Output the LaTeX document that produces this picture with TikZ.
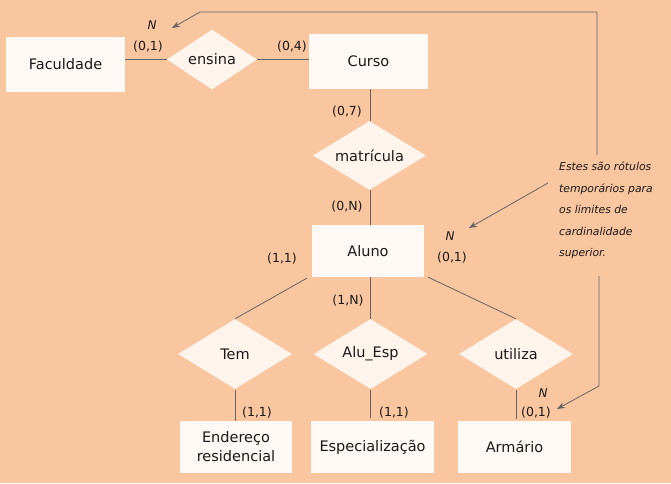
\documentclass[tikz,border=0pt]{standalone}
\usepackage{fontspec}
\setmainfont{DejaVu Sans}
\usetikzlibrary{shapes.geometric,arrows.meta}
\definecolor{bg}{RGB}{249,198,160}
\definecolor{boxfill}{RGB}{255,249,245}
\definecolor{diafill}{RGB}{255,245,236}
\definecolor{ln}{RGB}{100,100,100}
\definecolor{txt}{RGB}{25,25,25}
\begin{document}
\begin{tikzpicture}[x=1pt,y=-1pt,
  entity/.style={rectangle,fill=boxfill,inner sep=0pt,font=\fontsize{14.5}{19}\selectfont,text=txt,align=center},
  rel/.style={diamond,fill=diafill,inner sep=0pt},
  rlabel/.style={inner sep=0pt,font=\fontsize{14.5}{18}\selectfont,text=txt},
  card/.style={inner sep=0pt,font=\fontsize{12.5}{15}\selectfont,text=txt},
  upper/.style={inner sep=0pt,font=\fontsize{12}{14}\selectfont\itshape,text=txt},
  conn/.style={draw=ln,line width=0.8pt},
  arr/.style={draw=ln,line width=0.8pt,-{Stealth[length=8pt,width=6pt]}}
]
\fill[bg] (0,0) rectangle (671,483);
\useasboundingbox (0,0) rectangle (671,483);

% entities
\node[entity,minimum width=119pt,minimum height=55pt] (fac) at (65.5,64.5) {Faculdade};
\node[entity,minimum width=119pt,minimum height=55pt] (cur) at (368.5,61.5) {Curso};
\node[entity,minimum width=112pt,minimum height=52pt] (alu) at (368,251) {Aluno};
\node[entity,minimum width=112pt,minimum height=52pt] (end) at (236,447) {Endereço\\residencial};
\node[entity,minimum width=123pt,minimum height=52pt] (esp) at (372.5,447) {Especialização};
\node[entity,minimum width=113pt,minimum height=52pt] (arm) at (514.5,447) {Armário};

% relationships
\node[rel,minimum width=90pt,minimum height=60pt] (ens) at (212,59.5) {};
\node[rel,minimum width=113pt,minimum height=69pt] (mat) at (369.5,155.5) {};
\node[rel,minimum width=114pt,minimum height=70pt] (tem) at (235,354) {};
\node[rel,minimum width=114pt,minimum height=70pt] (ale) at (370.5,354) {};
\node[rel,minimum width=114pt,minimum height=70pt] (uti) at (516,354) {};
\node[rlabel] at (ens.center) {ensina};
\node[rlabel] at (mat.center) {matrícula};
\node[rlabel] at (tem.center) {Tem};
\node[rlabel] at (ale.center) {Alu\_Esp};
\node[rlabel] at (uti.center) {utiliza};

% connectors
\draw[conn] (fac.east |- 0,59) -- (ens.west |- 0,59);
\draw[conn] (ens.east |- 0,59) -- (cur.west |- 0,59);
\draw[conn] (cur.south -| 370,0) -- (mat.north -| 370,0);
\draw[conn] (mat.south -| 370,0) -- (alu.north -| 370,0);
\path (alu.south west) ++(-5,1) coordinate (a1);
\draw[conn] (a1) -- (tem.north);
\draw[conn] (alu.south -| ale.north) -- (ale.north);
\path (alu.south east) ++(4,0) coordinate (a2);
\draw[conn] (a2) -- (uti.north);
\path (tem.south) ++(0,1) coordinate (t1);
\draw[conn] (t1) -- (end.north -| t1);
\path (ale.south) ++(0,1) coordinate (t2);
\draw[conn] (t2) -- ([yshift=3pt]esp.north -| t2);
\path (uti.south) ++(0,1) coordinate (t3);
\draw[conn] (t3) -- ([yshift=2pt]arm.north -| t3);

% cardinalities
\node[card] at (148,47) {(0,1)};
\node[card] at (292,47) {(0,4)};
\node[card] at (347,112) {(0,7)};
\node[card] at (347,207) {(0,N)};
\node[card] at (282,259) {(1,1)};
\node[card] at (452,258) {(0,1)};
\node[card] at (348,301) {(1,N)};
\node[card] at (257,413) {(1,1)};
\node[card] at (394,413) {(1,1)};
\node[card] at (536,413) {(0,1)};

% upper bound labels
\node[upper] (n1) at (152,25) {N};
\node[upper] (n2) at (450,236) {N};
\node[upper] (n3) at (543,393) {N};

% note
\node[inner sep=0pt,anchor=north west,align=left,font=\fontsize{10.8}{21.5}\selectfont\itshape,text=txt] (note) at (559,162) {Estes são rótulos\\temporários para\\os limites de\\cardinalidade\\superior.};

\coordinate (p1) at (597,155);
\coordinate (p2) at (597,12);
\coordinate (p3) at (200,12);
\coordinate (tip1) at (172,28);
\coordinate (q1) at (548,183);
\coordinate (tip2) at (469,228);
\coordinate (r1) at (599,276);
\coordinate (r2) at (599,386);
\coordinate (tip3) at (557,409);
\draw[arr] (p1) -- (p2) -- (p3) -- (tip1);
\draw[arr] (q1) -- (tip2);
\draw[arr] (r1) -- (r2) -- (tip3);
\end{tikzpicture}
\end{document}
